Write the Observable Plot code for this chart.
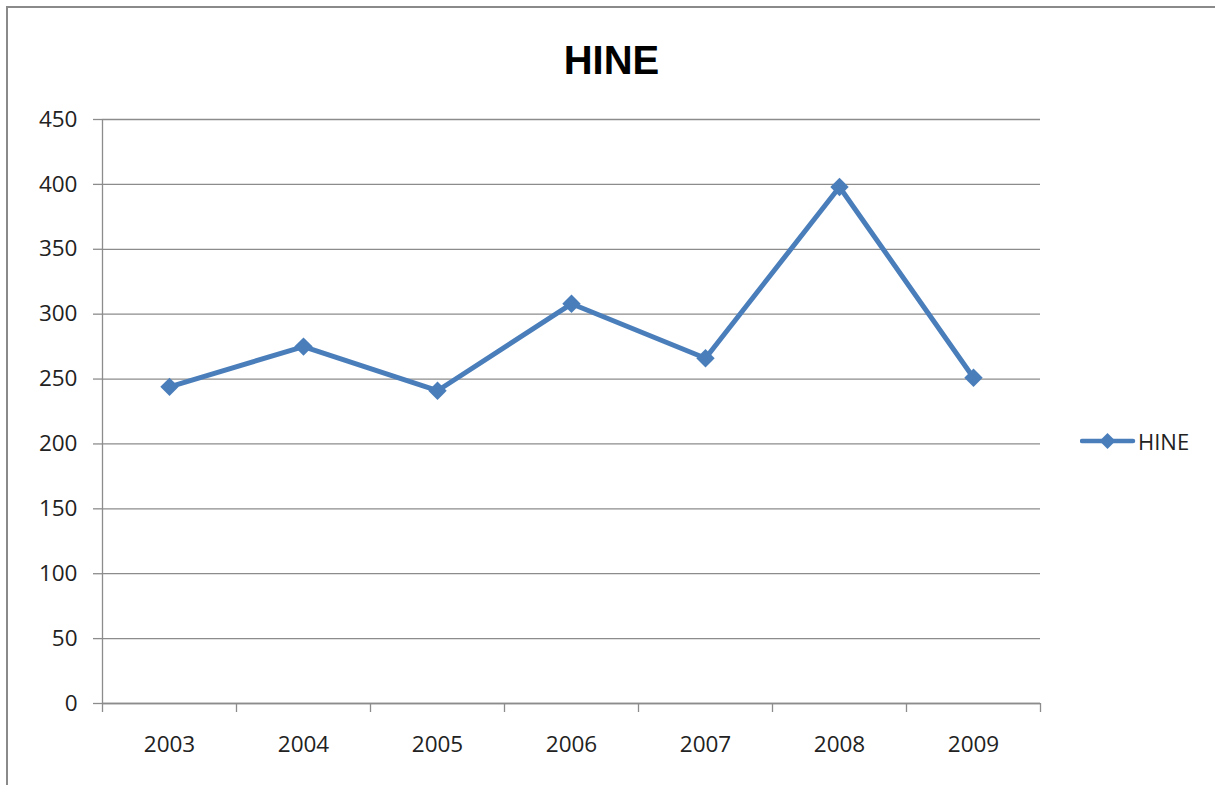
<!DOCTYPE html>
<html>
<head>
<meta charset="utf-8">
<script src="https://cdn.jsdelivr.net/npm/d3@7"></script>
<script src="https://cdn.jsdelivr.net/npm/@observablehq/plot@0.6"></script>
<style>
  html, body { margin: 0; padding: 0; background: #fff; }
  #wrap { position: relative; width: 1215px; height: 785px; overflow: hidden; }
  #border { position: absolute; left: 6px; top: 6px; width: 1230px; height: 800px; border: 2px solid #8a8a8a; box-sizing: border-box; }
  #title { position: absolute; left: 0; width: 1223px; top: 36px; text-align: center; font-family: "Liberation Sans", Arial, sans-serif; font-weight: bold; font-size: 40px; color: #000; line-height: 48px; }
  #legend { position: absolute; left: 1080px; top: 426px; font-family: "Open Sans", sans-serif; font-size: 22px; color: #222; display: flex; align-items: center; }
  #chart { position: absolute; left: 0; top: 0; }
</style>
</head>
<body>
<div id="wrap">
  <div id="chart"></div>
  <div id="border"></div>
  <div id="title">HINE</div>
  <div id="legend"></div>
</div>
<script>
const years = [2003, 2004, 2005, 2006, 2007, 2008, 2009];
const values = [244, 275, 241, 308, 266, 398, 251];
const yTicks = [0, 50, 100, 150, 200, 250, 300, 350, 400, 450];
const seriesName = "HINE";

const data = years.map((y, i) => ({year: y, value: values[i]}));
const boundaries = years.map(y => y - 0.5).concat([years[years.length - 1] + 0.5]);
const blue = "#4a7ebb";

const chart = Plot.plot({
  width: 1215,
  height: 785,
  marginLeft: 102,
  marginRight: 175,
  marginTop: 119,
  marginBottom: 82,
  style: {fontFamily: "'Open Sans', sans-serif", fontSize: "22.5px", color: "#222", background: "transparent"},
  x: {type: "linear", domain: [boundaries[0], boundaries[boundaries.length - 1]]},
  y: {domain: [0, 450]},
  marks: [
    Plot.gridY(yTicks, {stroke: "#8c8c8c", strokeOpacity: 1, strokeWidth: 1.3}),
    Plot.axisY({ticks: yTicks, tickSize: 9, tickPadding: 16, stroke: "#8c8c8c", strokeWidth: 1.3, label: null, fill: "#222"}),
    Plot.axisX({ticks: boundaries, tickSize: 9, text: null, stroke: "#8c8c8c", strokeWidth: 1.3, label: null}),
    Plot.axisX({ticks: years, tickSize: 0, tickPadding: 33, tickFormat: d => String(d), label: null, fill: "#222"}),
    Plot.ruleX([boundaries[0]], {stroke: "#8c8c8c", strokeWidth: 1.3}),
    Plot.ruleY([0], {stroke: "#8c8c8c", strokeWidth: 1.3}),
    Plot.line(data, {x: "year", y: "value", stroke: blue, strokeWidth: 5, strokeLinejoin: "round"}),
    Plot.dot(data, {x: "year", y: "value", symbol: "diamond2", r: 8.3, fill: blue, stroke: null})
  ]
});
document.getElementById("chart").appendChild(chart);

const leg = document.getElementById("legend");
leg.innerHTML = `<svg width="56" height="26" style="margin-right:2px"><line x1="2" y1="13" x2="53" y2="13" stroke="${blue}" stroke-width="4.5" stroke-linecap="round"/><path d="M27.5,5 L35.5,13 L27.5,21 L19.5,13 Z" fill="${blue}"/></svg><span>${seriesName}</span>`;
</script>
</body>
</html>
